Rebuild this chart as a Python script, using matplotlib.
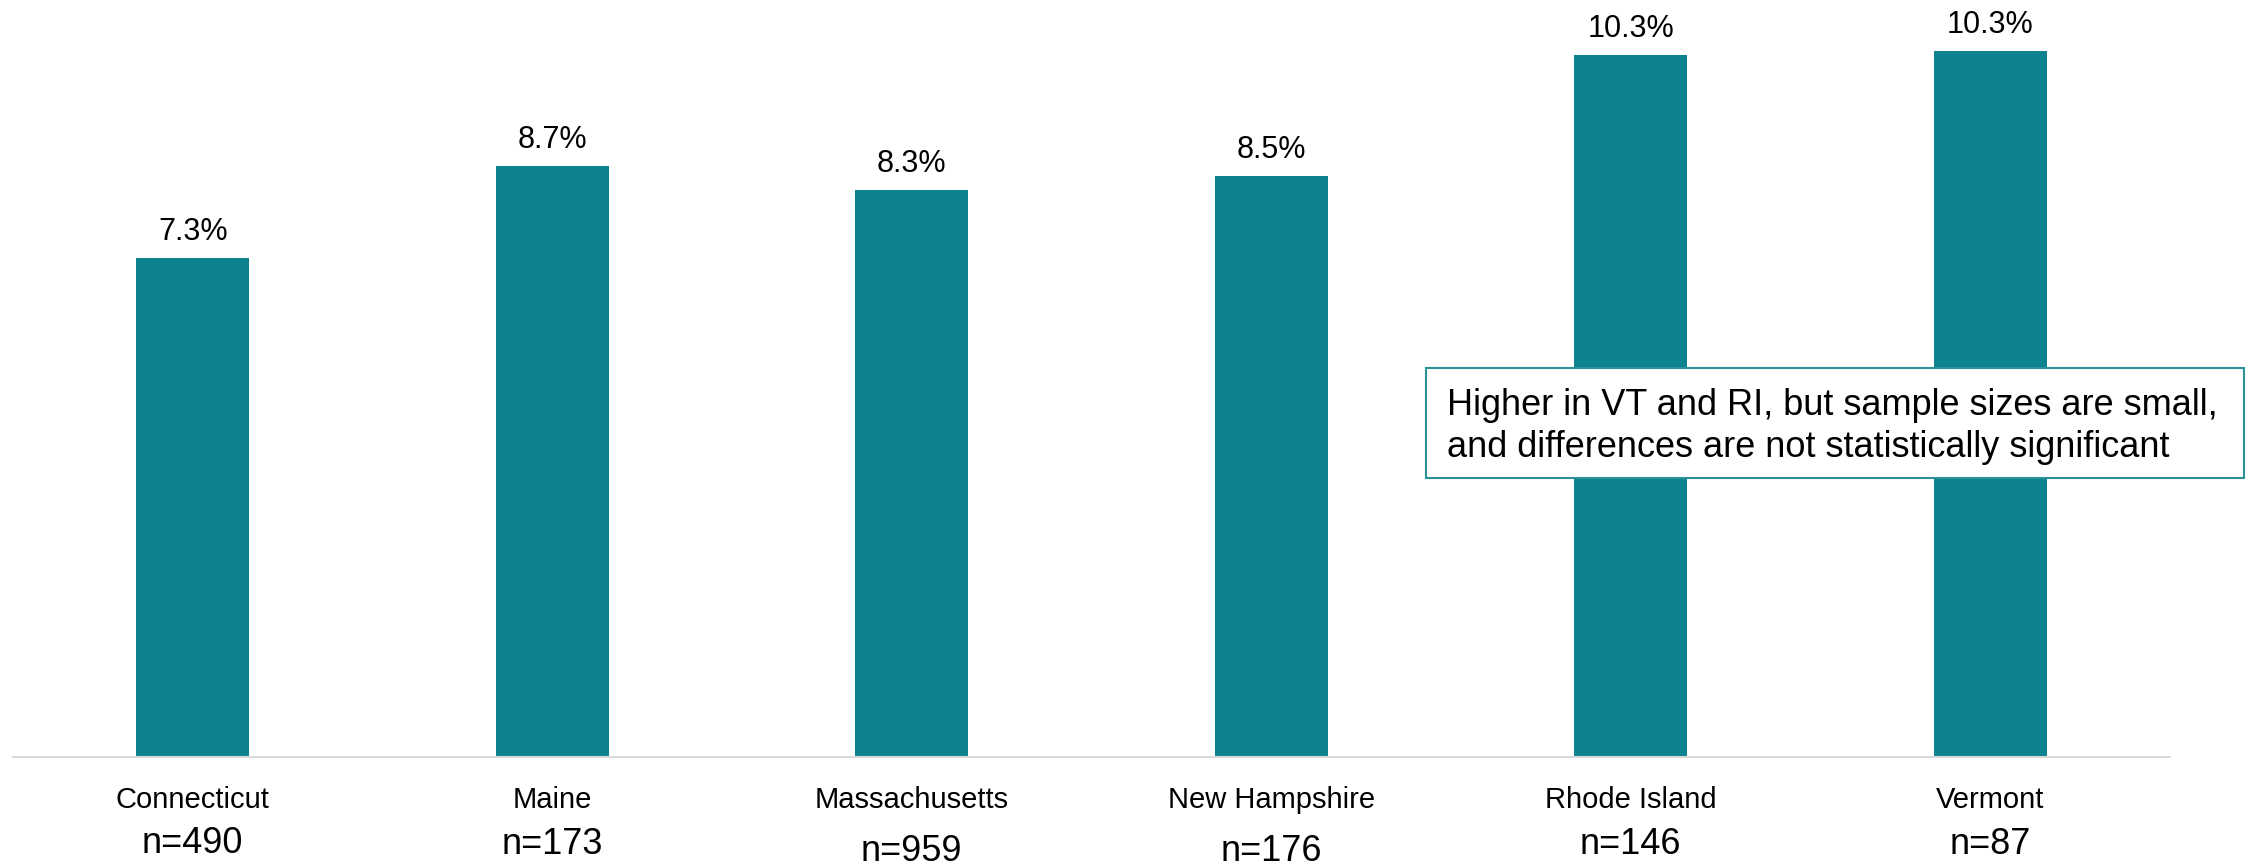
import numpy as np
import matplotlib
matplotlib.use('Agg')
import matplotlib.pyplot as plt
from matplotlib.patches import Rectangle

plt.rcParams['font.family'] = ['Liberation Sans', 'DejaVu Sans']

states = ['Connecticut', 'Maine', 'Massachusetts', 'New Hampshire', 'Rhode Island', 'Vermont']
pct = [7.3, 8.65, 8.3, 8.5, 10.27, 10.34]
n_sizes = [490, 173, 959, 176, 146, 87]
note = 'Higher in VT and RI, but sample sizes are small,\nand differences are not statistically significant'

# vertical offsets (points) of the n= labels, they are not all on one line
n_offsets = [-69, -69.5, -75, -75, -69.5, -69.5]

teal = '#0D8390'

fig = plt.figure(figsize=(22.54, 8.67), dpi=100)
ax = fig.add_axes([13/2254, 110/867, 2157/2254, 757/867])

x = np.arange(len(states))
ax.bar(x, pct, width=0.313, color=teal)
ax.set_xlim(-0.5, len(states) - 0.5)
ax.set_ylim(0, 11.08)

for s in ['top', 'right', 'left']:
    ax.spines[s].set_visible(False)
ax.spines['bottom'].set_color('#D9D9D9')
ax.spines['bottom'].set_linewidth(1.5)
ax.set_xticks([])
ax.set_yticks([])

for i, v in enumerate(pct):
    ax.annotate(f'{v:.1f}%', (i, v), xytext=(0, 13), textcoords='offset points',
                ha='center', va='baseline', fontsize=22)
    ax.annotate(states[i], (i, 0), xytext=(0, -37), textcoords='offset points',
                ha='center', va='baseline', fontsize=21)
    ax.annotate(f'n={n_sizes[i]}', (i, 0), xytext=(0, n_offsets[i]), textcoords='offset points',
                ha='center', va='baseline', fontsize=26, annotation_clip=False)

# callout box
fig.patches.append(Rectangle((1426/2254, (867-478)/867), 818/2254, 110/867,
                             transform=fig.transFigure, facecolor='white',
                             edgecolor='#2C9099', linewidth=1.5, zorder=5))
lines = note.split('\n')
fig.text(1447/2254, (867-415)/867, lines[0], fontsize=26, va='baseline', zorder=6)
fig.text(1447/2254, (867-457)/867, lines[1], fontsize=26, va='baseline', zorder=6)

fig.savefig('out.png', dpi=100)
